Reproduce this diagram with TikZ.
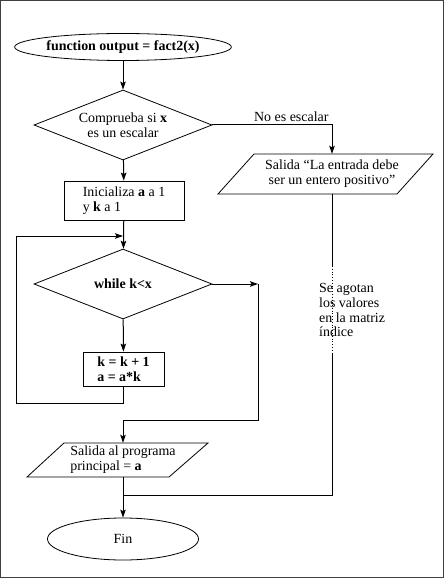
\documentclass[tikz,border=0pt]{standalone}
\usepackage{fontspec}
\setmainfont{Liberation Serif}
\usetikzlibrary{
  	positioning,
  	shapes.geometric,
  	arrows.meta,
  	calc
  }
\tikzstyle{terminal}=[ellipse,draw,line width=0.8bp,inner sep=0pt]
\tikzstyle{decision}=[diamond,draw,line width=0.8bp,inner sep=0pt,aspect=2.54,align=center]
\tikzstyle{process}=[rectangle,draw,line width=0.8bp,align=left]
\tikzstyle{inout}=[rectangle,inner sep=0pt]
\tikzstyle{outline}=[line width=0.8bp]
\tikzstyle{wire}=[line width=1bp]
\tikzstyle{flow}=[wire,-{Stealth[length=8bp,width=5.5bp,inset=1.5bp]}]

\begin{document}
\begin{tikzpicture}[x=1bp,y=-1bp,font=\fontsize{14}{15}\selectfont]
  \useasboundingbox (0,0) rectangle (444,578);
  \draw [line width=1bp,black!75] (0.5,0.5) rectangle (443.5,577.5);
%
  \node [terminal,minimum width=172bp,minimum height=27bp] (start) at (123,47)
     {\textbf{function output = fact2(x)}};
  \node [decision,minimum width=178bp,minimum height=70bp] (check) at (123,125)
     {Comprueba si \textbf{x}\\es un escalar};
  \node [process,minimum width=120bp,minimum height=39bp] (init) at (124,200.5)
     {Inicializa \textbf{a} a 1\\y \textbf{k} a 1};
  \node [decision,minimum width=178bp,minimum height=70bp] (whileloop) at (123,284)
     {\textbf{while k<x}};
  \node [process,minimum width=81bp,minimum height=34bp] (update) at (123.5,369)
     {\textbf{k = k + 1}\\\textbf{a = a*k}};
  \node [inout,align=left,minimum height=34bp] (result) at (123,460)
     {Salida al programa\\principal = \textbf{a}};
  \node [terminal,minimum width=151bp,minimum height=42bp] (fin) at (123,539) {Fin};
  \node [inout,align=center,minimum height=40bp] (error) at (332,174)
     {Salida “La entrada debe\\ser un entero positivo”};
%
  \draw [outline]
     ($(result)+(-96,17)$) --
     ($(result)+(-59,-17)$) --
     ($(result)+(85,-17)$) --
     ($(result)+(46,17)$) --
     cycle;
  \draw [outline]
     ($(error)+(-114,20)$) --
     ($(error)+(-78,-20)$) --
     ($(error)+(101,-20)$) --
     ($(error)+(65,20)$) --
     cycle;
%
  \coordinate (gaptop) at (332,266);
  \coordinate (gapbot) at (332,353);
  \coordinate (join) at (123,495);
  \coordinate (exitc) at (258,284);
  \coordinate (merge) at (123,420);
  \coordinate (loopbl) at (16,403);
  \coordinate (loopin) at (123,236);
%
  \draw [flow] (start) -- (check);
  \draw [flow] (check.east) -| (error.north)
     node [pos=0.33,above,inner sep=3pt] (noscalar) {No es escalar};
  \draw [flow] (check) -- (init);
  \draw [flow] (init) -- (whileloop);
  \draw [flow] (whileloop) -- (update);
  \draw [flow] (update.south) |- (loopbl) |- (loopin);
  \draw [flow] (whileloop.east) -- (exitc);
  \draw [flow] (exitc) |- (merge) -- (result.north);
  \draw [wire] (result.south) -- (join);
  \draw [flow] (join) -- (fin);
%
  \draw [wire] (error.south) -- (gaptop);
  \draw [line width=0.8bp,dotted] (gaptop) -- (gapbot);
  \draw [wire] (gapbot) |- (join);
  \node [align=left,anchor=west,inner sep=0pt] (exhausted) at (319,310)
     {Se agotan\\los valores\\en la matriz\\índice};
\end{tikzpicture}
\end{document}
